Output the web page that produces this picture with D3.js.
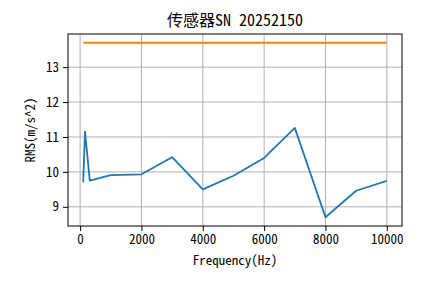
<!DOCTYPE html>
<html>
<head>
<meta charset="utf-8">
<script src="https://cdn.jsdelivr.net/npm/d3@7"></script>
<style>
  body { margin: 0; background: #fff; }
  text { font-family: "Noto Sans Mono CJK SC", "Noto Sans CJK SC", sans-serif; fill: #000; }
</style>
</head>
<body>
<div id="chart"></div>
<script>
// Data
const freqs = [100, 160, 315, 1000, 2000, 3000, 4000, 5000, 6000, 7000, 8000, 9000, 10000];
const rmsValues = [9.70, 11.15, 9.75, 9.91, 9.93, 10.42, 9.50, 9.89, 10.40, 11.26, 8.70, 9.46, 9.74];
const limitValue = 13.70;
const xTicks = [0, 2000, 4000, 6000, 8000, 10000];
const yTicks = [9, 10, 11, 12, 13];

const W = 445, H = 283;
const margin = { top: 34, right: 43, bottom: 57, left: 68 };
const width = W - margin.left - margin.right,
  height = H - margin.top - margin.bottom;

const svg = d3.select("#chart").append("svg")
  .attr("width", W)
  .attr("height", H);

const g = svg.append("g")
  .attr("transform", `translate(${margin.left},${margin.top})`);

// matplotlib-like 5% margins
const xMin = d3.min(freqs), xMax = d3.max(freqs);
const xPad = (xMax - xMin) * 0.05;
const x = d3.scaleLinear().domain([xMin - xPad, xMax + xPad]).range([0, width]);

const yMin = d3.min(rmsValues.concat([limitValue])), yMax = d3.max(rmsValues.concat([limitValue]));
const yPad = (yMax - yMin) * 0.05;
const y = d3.scaleLinear().domain([yMin - yPad, yMax + yPad]).range([height, 0]);

// grid
g.selectAll(".vgrid").data(xTicks).enter().append("line")
  .attr("x1", d => x(d)).attr("x2", d => x(d))
  .attr("y1", 0).attr("y2", height)
  .attr("stroke", "#b0b0b0").attr("stroke-width", 1);
g.selectAll(".hgrid").data(yTicks).enter().append("line")
  .attr("x1", 0).attr("x2", width)
  .attr("y1", d => y(d)).attr("y2", d => y(d))
  .attr("stroke", "#b0b0b0").attr("stroke-width", 1);

// lines
const line = d3.line().x((d, i) => x(freqs[i])).y(d => y(d));
g.append("path")
  .datum(rmsValues)
  .attr("d", line)
  .attr("fill", "none")
  .attr("stroke", "#1f77b4")
  .attr("stroke-width", 1.8)
  .attr("stroke-linejoin", "round");

g.append("path")
  .datum(freqs.map(() => limitValue))
  .attr("d", line)
  .attr("fill", "none")
  .attr("stroke", "#ff7f0e")
  .attr("stroke-width", 1.8);

// axes
const xAxis = g.append("g")
  .attr("transform", `translate(0,${height})`)
  .call(d3.axisBottom(x).tickValues(xTicks).tickSize(5).tickPadding(4).tickFormat(d3.format("d")));
const yAxis = g.append("g")
  .call(d3.axisLeft(y).tickValues(yTicks).tickSize(5).tickPadding(4).tickFormat(d3.format("d")));

[xAxis, yAxis].forEach(a => {
  a.select(".domain").remove();
  a.selectAll("line").attr("stroke", "#000").attr("stroke-width", 1);
  a.selectAll("text").attr("font-size", 13).attr("font-family", null).attr("fill", "#000");
});

// frame
g.append("rect")
  .attr("width", width).attr("height", height)
  .attr("fill", "none").attr("stroke", "#000").attr("stroke-width", 1);

// labels
svg.append("text")
  .attr("x", margin.left + width / 2).attr("y", 26)
  .attr("text-anchor", "middle")
  .attr("font-size", 16)
  .text("传感器SN 20252150");

svg.append("text")
  .attr("x", margin.left + width / 2).attr("y", 265)
  .attr("text-anchor", "middle")
  .attr("font-size", 13)
  .text("Frequency(Hz)");

svg.append("text")
  .attr("transform", `translate(35,${margin.top + height / 2}) rotate(-90)`)
  .attr("text-anchor", "middle")
  .attr("font-size", 13)
  .text("RMS(m/s^2)");
</script>
</body>
</html>
